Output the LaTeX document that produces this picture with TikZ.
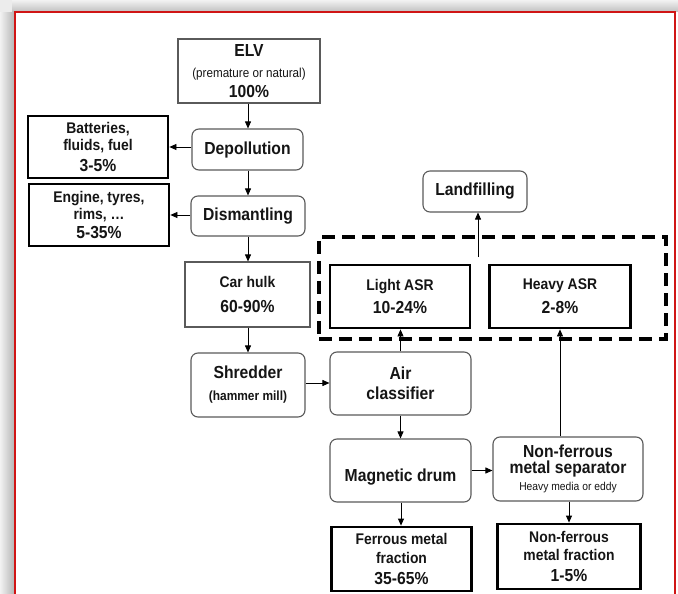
\documentclass[tikz,border=0pt]{standalone}
\usepackage{fontspec}
\setmainfont{Liberation Sans}[FakeStretch=0.9]
\usetikzlibrary{arrows.meta}
\definecolor{txt}{HTML}{151515}
\definecolor{redframe}{HTML}{D01515}
\definecolor{edge}{HTML}{5A5A5A}
\begin{document}
\begin{tikzpicture}[x=1bp,y=-1bp,
  every node/.style={inner sep=0pt, align=center, text=txt},
  proc/.style={draw=edge, line width=1.1bp, rounded corners=7bp, fill=white,
    font=\bfseries\fontsize{17.5}{20}\selectfont},
  plain/.style={draw=edge, line width=1.1bp, fill=white,
    font=\bfseries\fontsize{17.5}{20}\selectfont},
  outbox/.style={draw=black, line width=2.8bp, fill=white,
    font=\bfseries\fontsize{15.5}{17}\selectfont},
  arr/.style={-{Triangle[length=7bp,width=6bp]}, line width=0.8bp, draw=black}]
\useasboundingbox (0,0) rectangle (678,594);
% shadow and frame
\fill[white] (0,0) rectangle (678,594);
\shade[top color=gray!10, bottom color=gray!50] (12,0) rectangle (678,12);
\shade[left color=gray!10, right color=gray!60] (0,12) rectangle (15,594);
\fill[gray!15] (0,0) rectangle (12,12);
\draw[redframe, line width=2bp] (15,596) -- (15,12) -- (675,12) -- (675,596);
% dashed group
\node[draw=black, line width=3.5bp, dash pattern=on 13bp off 7bp,
  minimum width=347bp, minimum height=102bp] (asr) at (492.5,288) {};
% nodes
\node[plain, minimum width=142bp, minimum height=64bp] (elv) at (249,71)
  {\raisebox{1.5bp}{ELV}\\[-1bp]{\mdseries\fontsize{13}{20}\selectfont (premature or natural)}\\100\%};
\node[proc, minimum width=111bp, minimum height=41bp] (depol) at (247.5,149.5) {Depollution};
\node[outbox, minimum width=140bp, minimum height=62bp] (batt) at (98,147)
  {Batteries,\\[-0.5bp]fluids, fuel\\[4bp]{\fontsize{17.5}{17}\selectfont 3-5\%}};
\node[proc, minimum width=114bp, minimum height=40bp] (dism) at (248,216) {Dismantling};
\node[outbox, minimum width=140bp, minimum height=62bp] (eng) at (99,215)
  {Engine, tyres,\\[1bp]rims, …\\[2bp]{\fontsize{17.5}{17}\selectfont 5-35\%}};
\node[plain, minimum width=125bp, minimum height=65bp] (hulk) at (247.5,294.5)
  {{\fontsize{15.5}{20}\selectfont Car hulk}\\[6bp]60-90\%};
\node[proc, minimum width=114bp, minimum height=64bp] (shred) at (248,385)
  {Shredder\\[2bp]{\fontsize{13.3}{20}\selectfont (hammer mill)}};
\node[proc, minimum width=141bp, minimum height=63bp] (air) at (400.5,383.5)
  {Air\\classifier};
\node[proc, minimum width=141bp, minimum height=63bp] (mag) at (400.5,470.5)
  {\raisebox{-11bp}[0pt][0pt]{Magnetic drum}};
\node[proc, minimum width=150bp, minimum height=64bp] (sep) at (568,469)
  {Non-ferrous\\[-4bp]metal separator\\[-3bp]{\mdseries\fontsize{11.5}{20}\selectfont Heavy media or eddy}};
\node[outbox, minimum width=140bp, minimum height=63bp] (light) at (400,296.5)
  {Light ASR\\[7bp]{\fontsize{17.5}{17}\selectfont 10-24\%}};
\node[outbox, minimum width=141bp, minimum height=63bp] (heavy) at (560,296.5)
  {Heavy ASR\\[7bp]{\fontsize{17.5}{17}\selectfont 2-8\%}};
\node[outbox, minimum width=140bp, minimum height=64bp] (ferr) at (401.5,559)
  {Ferrous metal\\[2bp]fraction\\[4bp]{\fontsize{17.5}{17}\selectfont 35-65\%}};
\node[outbox, minimum width=143bp, minimum height=65bp] (nff) at (569,556.5)
  {Non-ferrous\\[1bp]metal fraction\\[4bp]{\fontsize{17.5}{17}\selectfont 1-5\%}};
\node[proc, minimum width=104bp, minimum height=41bp] (land) at (475,191.5) {Landfilling};
\coordinate (lf) at (478,257);
% connectors
\draw[arr] (elv.south -| 248,0) -- (depol.north -| 248,0);
\draw[arr] (depol.west |- batt.east) -- (batt.east);
\draw[arr] (depol.south -| 248,0) -- (dism.north -| 248,0);
\draw[arr] (dism.west |- eng.east) -- (eng.east);
\draw[arr] (dism.south -| 248,0) -- (hulk.north -| 248,0);
\draw[arr] (hulk.south -| 248,0) -- (shred.north -| 248,0);
\draw[arr] (shred.east |- 0,383) -- (air.west |- 0,383);
\draw[arr] (air.north) -- (air.north |- light.south);
\draw[arr] (air.south) -- (air.south |- mag.north);
\draw[arr] (mag.east) -- (mag.east -| sep.west);
\draw[arr] (mag.south -| 401,0) -- (ferr.north -| 401,0);
\draw[arr] (sep.north -| heavy.south) -- (heavy.south);
\draw[arr] (sep.south -| nff.north) -- (nff.north);
\draw[arr] (lf) -- (lf |- land.south);
\end{tikzpicture}
\end{document}
